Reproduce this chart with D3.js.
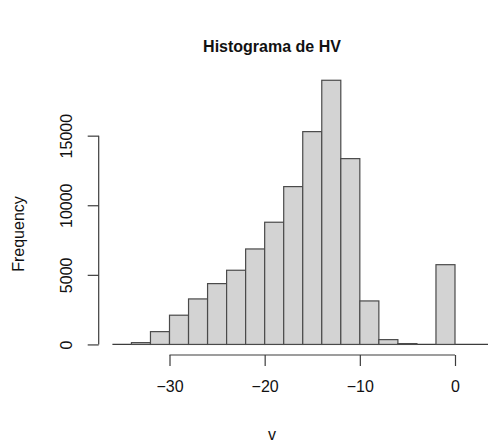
<!DOCTYPE html>
<html>
<head>
<meta charset="utf-8">
<script src="https://cdn.jsdelivr.net/npm/d3@7"></script>
<style>
  body { margin: 0; background: #fff; }
  svg { display: block; font-family: "Liberation Sans", Arial, sans-serif; }
</style>
</head>
<body>
<svg id="chart" width="488" height="442"></svg>
<script>
// histogram bins (2 units wide) and their counts
const breaks = [-36, -34, -32, -30, -28, -26, -24, -22, -20, -18, -16, -14, -12, -10, -8, -6, -4, -2, 0];
const counts = [0, 130, 920, 2100, 3270, 4370, 5330, 6860, 8780, 11340, 15290, 18980, 13350, 3125, 345, 60, 0, 5730];
const xTicks = [-30, -20, -10, 0];
const yTicks = [0, 5000, 10000, 15000];
const title = "Histograma de HV";
const xLabel = "v";
const yLabel = "Frequency";

const svg = d3.select("#chart");

// R style: limits padded by 4% on each side
const xPad = (d3.max(breaks) - d3.min(breaks)) * 0.04;
const yPad = d3.max(counts) * 0.04;
const plot = {left: 98.7, right: 468.7, top: 69.7, bottom: 355};

const x = d3.scaleLinear()
  .domain([d3.min(breaks) - xPad, d3.max(breaks) + xPad])
  .range([plot.left, plot.right]);
const y = d3.scaleLinear()
  .domain([-yPad, d3.max(counts) + yPad])
  .range([plot.bottom, plot.top]);

const bins = counts.map((c, i) => ({x0: breaks[i], x1: breaks[i + 1], n: c}));

const ink = "#3c3c3c";

// baseline running under the bars
svg.append("line")
  .attr("x1", x(-36))
  .attr("x2", 488)
  .attr("y1", y(0))
  .attr("y2", y(0))
  .attr("stroke", ink)
  .attr("stroke-width", 1.2);

svg.append("g")
  .selectAll("rect")
  .data(bins.filter(d => d.n > 0))
  .join("rect")
  .attr("x", d => x(d.x0))
  .attr("width", d => x(d.x1) - x(d.x0))
  .attr("y", d => y(d.n))
  .attr("height", d => y(0) - y(d.n))
  .attr("fill", "#d3d3d3")
  .attr("stroke", "#4a4a4a")
  .attr("stroke-width", 1.2);

// x axis
const gx = svg.append("g")
  .attr("transform", `translate(0,${plot.bottom})`)
  .call(d3.axisBottom(x).tickValues(xTicks).tickSize(11).tickSizeOuter(0).tickPadding(15));
gx.select(".domain").attr("d", `M${x(d3.min(xTicks))},0H${x(d3.max(xTicks))}`);

// y axis
const gy = svg.append("g")
  .attr("transform", `translate(${plot.left},0)`)
  .call(d3.axisLeft(y).tickValues(yTicks).tickSize(11).tickSizeOuter(0).tickFormat(d3.format("d")));
gy.select(".domain").attr("d", `M0,${y(d3.min(yTicks))}V${y(d3.max(yTicks))}`);
gy.selectAll(".tick text")
  .attr("transform", "translate(-27,0) rotate(-90)")
  .attr("x", 0)
  .attr("dy", 0)
  .attr("text-anchor", "middle");

[gx, gy].forEach(g => {
  g.select(".domain").attr("stroke", ink).attr("stroke-width", 1.2);
  g.selectAll(".tick line").attr("stroke", ink).attr("stroke-width", 1.2);
  g.selectAll(".tick text")
    .attr("fill", "#111")
    .attr("font-size", 16)
    .attr("font-family", "Liberation Sans, Arial, sans-serif");
});

svg.append("text")
  .attr("x", 272)
  .attr("y", 52)
  .attr("text-anchor", "middle")
  .attr("font-size", 16)
  .attr("font-weight", "bold")
  .attr("fill", "#111")
  .text(title);

svg.append("text")
  .attr("x", 272)
  .attr("y", 440)
  .attr("text-anchor", "middle")
  .attr("font-size", 16)
  .attr("fill", "#111")
  .text(xLabel);

svg.append("text")
  .attr("transform", "translate(24,234) rotate(-90)")
  .attr("text-anchor", "middle")
  .attr("font-size", 16)
  .attr("fill", "#111")
  .text(yLabel);
</script>
</body>
</html>
